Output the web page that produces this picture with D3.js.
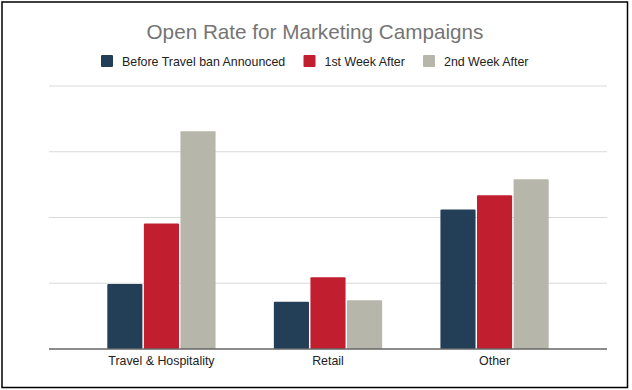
<!DOCTYPE html>
<html>
<head>
<meta charset="utf-8">
<script src="https://cdn.jsdelivr.net/npm/d3@7"></script>
<style>
  body { margin: 0; background: #fff; }
  svg { display: block; font-family: "Liberation Sans", Arial, sans-serif; }
</style>
</head>
<body>
<svg width="632" height="390"></svg>
<script>
// values (in %, grid step = 10)
var categories = ["Travel & Hospitality", "Retail", "Other"]
var seriesNames = ["Before Travel ban Announced", "1st Week After", "2nd Week After"]
var colors = ["#233f58", "#c11e30", "#b6b6aa"]
var beforeBan = [9.9, 7.2, 21.2]
var week1 = [19.1, 10.9, 23.4]
var week2 = [33.1, 7.4, 25.8]
var yTicks = [0, 10, 20, 30, 40]

var series = [beforeBan, week1, week2]

var svg = d3.select("svg")

// frame
svg.append("rect")
    .attr("x", 2).attr("y", 2)
    .attr("width", 625.5).attr("height", 385.5)
    .attr("fill", "none")
    .attr("stroke", "#000")
    .attr("stroke-width", 1.5)

var plotLeft = 49, plotRight = 607, plotTop = 86, plotBottom = 349

var y = d3.scaleLinear().domain([0, 40]).range([plotBottom, plotTop])

var x0 = d3.scaleBand()
    .domain(categories)
    .range([plotLeft, plotRight])
    .paddingInner(0.35)
    .paddingOuter(0.35)

var x1 = d3.scaleBand()
    .domain(d3.range(seriesNames.length))
    .range([0, x0.bandwidth()])
    .paddingInner(0.04)

// gridlines
svg.append("g")
    .selectAll("line")
    .data(yTicks.slice(1))
    .join("line")
    .attr("x1", plotLeft).attr("x2", plotRight)
    .attr("y1", (d) => y(d)).attr("y2", (d) => y(d))
    .attr("stroke", "#d9d9d9")
    .attr("stroke-width", 1)

// bars
var groups = svg.append("g")
    .selectAll("g")
    .data(categories)
    .join("g")
    .attr("transform", (d) => "translate(" + x0(d) + ",0)")

groups.selectAll("rect")
    .data((d, i) => series.map((s, j) => ({ j: j, v: s[i] })))
    .join("rect")
    .attr("x", (d) => x1(d.j))
    .attr("y", (d) => y(d.v))
    .attr("width", x1.bandwidth())
    .attr("height", (d) => y(0) - y(d.v))
    .attr("rx", 1)
    .attr("fill", (d) => colors[d.j])

// baseline
svg.append("line")
    .attr("x1", plotLeft).attr("x2", plotRight)
    .attr("y1", y(0)).attr("y2", y(0))
    .attr("stroke", "#666")
    .attr("stroke-width", 1.5)

// x axis labels
var xAxis = d3.axisBottom(x0).tickSize(0).tickPadding(7)
var gx = svg.append("g")
    .attr("transform", "translate(0," + y(0) + ")")
    .call(xAxis)
gx.select(".domain").remove()
gx.selectAll("text")
    .attr("font-size", 12.4)
    .attr("font-family", "Liberation Sans, Arial, sans-serif")
    .attr("fill", "#222")

// title
svg.append("text")
    .attr("x", 315).attr("y", 38.5)
    .attr("text-anchor", "middle")
    .attr("font-size", 20.7)
    .attr("fill", "#757575")
    .text("Open Rate for Marketing Campaigns")

// legend
var legendX = [101, 303.5, 423]
var legend = svg.append("g")
    .selectAll("g")
    .data(seriesNames)
    .join("g")
    .attr("transform", (d, i) => "translate(" + legendX[i] + ",55)")

legend.append("rect")
    .attr("width", 12).attr("height", 12)
    .attr("rx", 1)
    .attr("fill", (d, i) => colors[i])

legend.append("text")
    .attr("x", 21).attr("y", 10.5)
    .attr("font-size", 12.4)
    .attr("fill", "#222")
    .text((d) => d)
</script>
</body>
</html>
